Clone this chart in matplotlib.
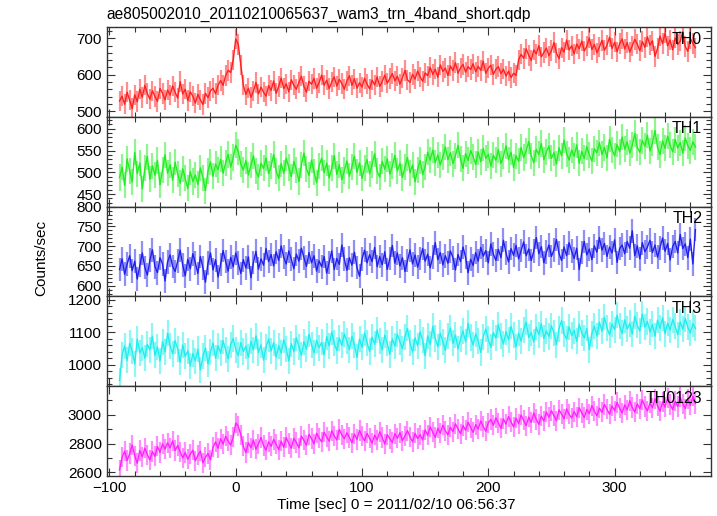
import numpy as np
import matplotlib
matplotlib.use("Agg")
import matplotlib.pyplot as plt
from matplotlib.ticker import MultipleLocator

plt.rcParams['font.family'] = ['Liberation Sans', 'DejaVu Sans']
plt.rcParams['font.size'] = 11

# light curve, 2 s bins starting at t = -92 s
t_start = -92.0
bin_width = 2.0

th0 = [528, 541, 519, 552, 530, 507, 545, 526, 560, 538,
       571, 548, 533, 556, 540, 527, 562, 549, 531, 558,
       544, 569, 552, 536, 581, 547, 560, 529, 553, 541,
       522, 546, 531, 518, 549, 537, 556, 563, 548, 571,
       584, 571, 598, 612, 606, 641, 698, 683, 626, 571,
       546, 563, 538, 555, 579, 547, 566, 552, 541, 570,
       557, 583, 549, 568, 591, 562, 575, 553, 586, 571,
       560, 579, 596, 568, 552, 582, 574, 590, 563, 578,
       599, 571, 585, 562, 580, 594, 569, 587, 576, 560,
       583, 597, 571, 589, 563, 578, 566, 590, 574, 561,
       585, 572, 594, 568, 581, 599, 577, 590, 603, 583,
       596, 574, 591, 612, 586, 579, 601, 588, 610, 594,
       582, 605, 597, 620, 601, 615, 593, 627, 609, 618,
       598, 624, 611, 633, 604, 619, 628, 607, 622, 614,
       630, 608, 623, 612, 637, 604, 618, 626, 601, 615,
       622, 603, 615, 596, 610, 592, 604, 598, 641, 656,
       645, 671, 653, 639, 668, 657, 680, 649, 661, 673,
       652, 666, 688, 659, 644, 674, 662, 695, 668, 679,
       657, 684, 671, 692, 665, 678, 701, 669, 683, 660,
       676, 694, 667, 681, 703, 672, 689, 663, 685, 698,
       671, 688, 662, 679, 697, 684, 666, 691, 675, 704,
       681, 693, 650, 672, 706, 685, 714, 679, 695, 668,
       701, 683, 692, 718, 677, 664, 699, 686, 674]

th1 = [488, 512, 470, 531, 503, 478, 546, 497, 521, 462,
       509, 536, 484, 515, 493, 527, 471, 505, 540, 498,
       517, 482, 523, 496, 475, 508, 486, 463, 501, 479,
       494, 472, 510, 487, 458, 503, 524, 491, 519, 506,
       530, 498, 522, 541, 512, 534, 562, 547, 519, 505,
       527, 494, 516, 538, 502, 489, 521, 509, 533, 497,
       514, 541, 503, 486, 520, 498, 532, 511, 490, 525,
       506, 479, 517, 544, 508, 493, 528, 501, 476, 515,
       532, 499, 521, 487, 509, 538, 495, 517, 483, 504,
       526, 491, 513, 537, 500, 522, 486, 510, 529, 497,
       518, 543, 502, 489, 525, 507, 531, 496, 514, 539,
       503, 521, 488, 512, 534, 499, 517, 478, 506, 527,
       495, 513, 546, 528, 551, 522, 540, 517, 536, 558,
       529, 545, 520, 538, 562, 531, 509, 543, 527, 550,
       536, 518, 547, 524, 555, 532, 541, 514, 539, 528,
       552, 520, 537, 561, 529, 546, 511, 538, 525, 557,
       534, 549, 571, 538, 522, 553, 541, 566, 529, 547,
       560, 532, 545, 519, 556, 538, 574, 543, 528, 551,
       537, 563, 521, 548, 532, 559, 540, 526, 554, 545,
       568, 541, 557, 533, 576, 552, 538, 564, 547, 581,
       553, 570, 544, 562, 589, 557, 546, 573, 560, 585,
       549, 567, 596, 558, 541, 572, 555, 583, 562, 547,
       575, 556, 568, 544, 579, 561, 550, 570, 558]

th2 = [641, 668, 629, 655, 676, 638, 662, 617, 651, 683,
       646, 627, 665, 691, 648, 633, 671, 655, 612, 660,
       678, 649, 636, 662, 690, 652, 625, 667, 643, 681,
       658, 631, 674, 645, 609, 657, 683, 640, 666, 622,
       654, 689, 661, 637, 672, 648, 683, 657, 631, 666,
       645, 673, 620, 659, 687, 642, 668, 652, 694, 661,
       679, 650, 686, 664, 701, 672, 655, 688, 667, 643,
       680, 662, 695, 671, 649, 684, 658, 676, 637, 663,
       648, 674, 632, 659, 688, 641, 669, 654, 703, 667,
       639, 671, 652, 685, 646, 624, 667, 690, 658, 679,
       661, 697, 648, 674, 653, 686, 641, 669, 702, 657,
       683, 650, 671, 636, 664, 691, 655, 678, 647, 669,
       694, 662, 680, 645, 673, 709, 666, 684, 653, 676,
       657, 688, 671, 640, 679, 661, 698, 672, 633, 667,
       651, 684, 662, 697, 675, 689, 658, 706, 680, 664,
       692, 671, 715, 683, 660, 694, 677, 702, 668, 689,
       711, 676, 693, 664, 687, 722, 681, 699, 658, 685,
       703, 674, 691, 717, 682, 664, 698, 676, 709, 687,
       669, 695, 641, 684, 712, 678, 693, 666, 701, 685,
       722, 690, 707, 674, 698, 683, 716, 659, 694, 703,
       681, 712, 695, 739, 676, 701, 668, 709, 686, 698,
       715, 684, 703, 672, 696, 721, 687, 707, 665, 699,
       712, 683, 730, 694, 706, 671, 718, 655, 742]

th3 = [952, 1031, 1058, 1014, 1066, 1042, 1003, 1079, 1037, 1052,
       1021, 1063, 1046, 1088, 1029, 1055, 1012, 1071, 1040, 1097,
       1058, 1034, 1074, 1049, 1008, 1061, 1026, 1043, 997, 1035,
       1012, 1048, 985, 1026, 1052, 1003, 1039, 1067, 1021, 1058,
       1036, 1074, 1045, 1019, 1062, 1081, 1047, 1029, 1068, 1041,
       1057, 1023, 1072, 1046, 1089, 1038, 1061, 1015, 1054, 1079,
       1043, 1068, 1024, 1059, 1036, 1077, 1050, 1012, 1065, 1041,
       1083, 1056, 1029, 1071, 1048, 1094, 1062, 1037, 1075, 1053,
       1069, 1031, 1087, 1058, 1101, 1066, 1044, 1082, 1060, 1095,
       1072, 1047, 1088, 1061, 1023, 1079, 1054, 1098, 1068, 1041,
       1085, 1063, 1107, 1072, 1046, 1091, 1066, 1032, 1080, 1058,
       1094, 1071, 1049, 1086, 1112, 1067, 1039, 1083, 1059, 1101,
       1075, 1028, 1089, 1063, 1118, 1081, 1056, 1097, 1070, 1045,
       1088, 1113, 1066, 1092, 1049, 1079, 1104, 1071, 1127, 1084,
       1061, 1095, 1073, 1038, 1086, 1110, 1078, 1054, 1099, 1082,
       1123, 1089, 1064, 1102, 1077, 1118, 1091, 1056, 1097, 1073,
       1108, 1131, 1084, 1099, 1070, 1115, 1093, 1126, 1081, 1104,
       1087, 1120, 1098, 1062, 1111, 1136, 1095, 1079, 1117, 1090,
       1105, 1072, 1124, 1099, 1083, 1112, 1047, 1096, 1119, 1088,
       1131, 1103, 1146, 1114, 1092, 1125, 1108, 1152, 1119, 1097,
       1138, 1110, 1127, 1095, 1149, 1121, 1104, 1156, 1116, 1133,
       1101, 1124, 1088, 1137, 1112, 1145, 1096, 1128, 1107, 1139,
       1118, 1093, 1131, 1109, 1142, 1115, 1098, 1126, 1112]

th0123 = [2618, 2705, 2748, 2683, 2731, 2790, 2716, 2664, 2752, 2709,
          2768, 2724, 2687, 2745, 2712, 2781, 2739, 2798, 2762, 2806,
          2771, 2819, 2753, 2787, 2742, 2701, 2738, 2692, 2726, 2755,
          2681, 2719, 2748, 2667, 2706, 2731, 2689, 2775, 2812, 2768,
          2834, 2797, 2851, 2818, 2789, 2846, 2943, 2921, 2862, 2781,
          2738, 2806, 2772, 2825, 2761, 2798, 2843, 2787, 2754, 2812,
          2781, 2829, 2796, 2758, 2817, 2775, 2842, 2801, 2769, 2836,
          2808, 2771, 2852, 2823, 2789, 2864, 2835, 2798, 2871, 2840,
          2812, 2879, 2846, 2817, 2889, 2853, 2826, 2898, 2861, 2834,
          2875, 2843, 2807, 2866, 2829, 2891, 2852, 2818, 2871, 2838,
          2804, 2859, 2826, 2881, 2843, 2797, 2862, 2834, 2808, 2869,
          2837, 2876, 2821, 2853, 2890, 2847, 2812, 2871, 2835, 2862,
          2826, 2895, 2858, 2917, 2879, 2843, 2906, 2872, 2928, 2889,
          2861, 2914, 2883, 2937, 2902, 2869, 2925, 2893, 2948, 2911,
          2878, 2932, 2901, 2957, 2919, 2886, 2945, 2968, 2927, 2979,
          2942, 2906, 2971, 2935, 2988, 2951, 2917, 2976, 2939, 2998,
          2962, 2925, 2984, 2947, 3012, 2968, 2933, 2991, 2957, 3019,
          2983, 3028, 2995, 2959, 3034, 3006, 2972, 3041, 3003, 2978,
          3022, 2986, 3049, 3014, 2981, 3037, 3008, 3063, 3025, 2993,
          3046, 3017, 3072, 3038, 3004, 3061, 3029, 3085, 3047, 3012,
          3068, 3034, 3097, 3051, 3019, 3076, 3042, 3103, 3058, 3027,
          3081, 3049, 3112, 3063, 3025, 3089, 3054, 3118, 3072, 3036,
          3094, 3058, 3121, 3075, 3043, 3107, 3066, 3128, 3079]

series = [th0, th1, th2, th3, th0123]
labels = ["TH0", "TH1", "TH2", "TH3", "TH0123"]
errors = [28, 30, 30, 40, 70]
colors = ["#ff2020", "#20ee20", "#2020ee", "#20eeee", "#ff20ff"]
ylims = [(484, 730), (421, 627), (573, 800), (935, 1210), (2577, 3199)]
ymajor = [100, 50, 50, 100, 200]
yminor = [20, 10, 10, 20, 100]

W, H = 717, 516
fig = plt.figure(figsize=(W / 100, H / 100), dpi=100)

left_px, right_px = 106.7, 711.3
top_px, panel_h = 27.3, 89.7

for i, vals in enumerate(series):
    y0 = top_px + i * panel_h
    ax = fig.add_axes([left_px / W, 1 - (y0 + panel_h) / H,
                       (right_px - left_px) / W, panel_h / H])
    v = np.asarray(vals, dtype=float)
    t = t_start + bin_width * np.arange(len(v))
    ax.errorbar(t, v, yerr=errors[i], fmt="none",
                ecolor=colors[i], alpha=0.5, elinewidth=1.6)
    ax.plot(t, v, color=colors[i], lw=1.0)

    ax.set_xlim(-102.2, 376.6)
    ax.set_ylim(*ylims[i])
    ax.xaxis.set_major_locator(MultipleLocator(100))
    ax.xaxis.set_minor_locator(MultipleLocator(20))
    ax.yaxis.set_major_locator(MultipleLocator(ymajor[i]))
    ax.yaxis.set_minor_locator(MultipleLocator(yminor[i]))
    ax.tick_params(which="both", direction="in", top=True, right=True,
                   color="#333333", labelsize=11)
    ax.tick_params(which="major", length=6, width=0.8)
    ax.tick_params(which="minor", length=3.5, width=0.8)
    for s in ax.spines.values():
        s.set_color("#333333")
        s.set_linewidth(1.0)
    if i < len(series) - 1:
        ax.tick_params(labelbottom=False)
    ax.text(0.985, 0.95, labels[i], transform=ax.transAxes, ha="right",
            va="top", fontsize=11.5)

fig.text(left_px / W, 1 - 14 / H, "ae805002010_20110210065637_wam3_trn_4band_short.qdp",
         ha="left", va="center", fontsize=11.2)
fig.text(41.7 / W, 1 - 258 / H, "Counts/sec", rotation=90, ha="center",
         va="center", fontsize=11)
fig.text(396.5 / W, 1 - 505 / H, "Time [sec] 0 = 2011/02/10 06:56:37",
         ha="center", va="center", fontsize=11)

fig.savefig("out.png", dpi=100)
